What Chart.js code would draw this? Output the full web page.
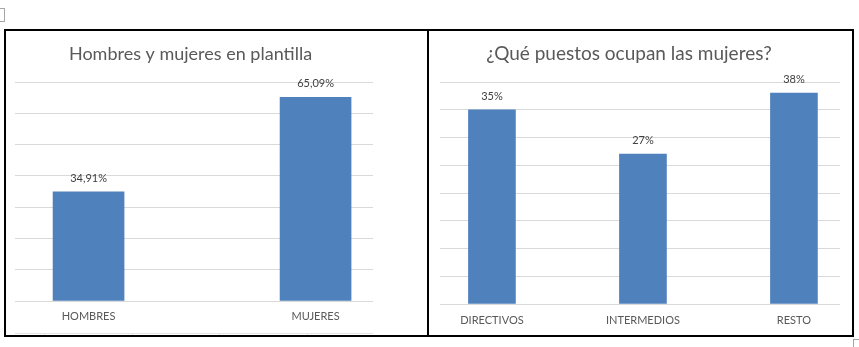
<!DOCTYPE html>
<html>
<head>
<meta charset="utf-8">
<script src="https://cdn.jsdelivr.net/npm/chart.js@4/dist/chart.umd.min.js"></script>
<style>
  body { margin: 0; background: #fff; width: 859px; height: 347px; overflow: hidden; position: relative; }
  .frame { position: absolute; left: 4px; top: 29px; width: 850px; height: 308px; border: 2px solid #000; box-sizing: border-box; }
  .divider { position: absolute; left: 427px; top: 29px; width: 2px; height: 308px; background: #000; }
  canvas { position: absolute; }
  .mark { position: absolute; border: 1px solid #a6a6a6; box-sizing: border-box; }
  .tbl { position: absolute; background: #e3e3e3; }
</style>
</head>
<body>
<div class="mark" style="left:-1px;top:8px;width:6px;height:14px;"></div>
<div class="mark" style="left:853px;top:339px;width:8px;height:10px;border-right:none;border-bottom:none;"></div>
<div class="tbl" style="left:15px;top:333px;width:358px;height:1px;"></div>
<div class="tbl" style="left:44px;top:333px;width:1px;height:3px;"></div>
<div class="tbl" style="left:132px;top:333px;width:1px;height:3px;"></div>
<div class="tbl" style="left:219px;top:333px;width:1px;height:3px;"></div>
<div class="tbl" style="left:307px;top:333px;width:1px;height:3px;"></div>
<div class="frame"></div>
<div class="divider"></div>
<canvas id="plantilla" width="421" height="304" style="left:6px;top:31px;"></canvas>
<canvas id="puestos" width="444" height="304" style="left:408px;top:31px;"></canvas>
<script>
// chart 1: hombres y mujeres
const plantillaCats = ['HOMBRES', 'MUJERES'];
const plantillaVals = [34.91, 65.09];
const plantillaMax = 70, plantillaStep = 10;

// chart 2: puestos
const puestosCats = ['DIRECTIVOS', 'INTERMEDIOS', 'RESTO'];
const puestosVals = [35, 27, 38];
const puestosMax = 40, puestosStep = 5;

const FONT = 'Lato, "Open Sans", sans-serif';
const BLUE = '#4f81bd';
const GRID = '#d9d9d9';
const TXT = '#595959';

const valueLabels = {
  id: 'valueLabels',
  afterDatasetsDraw(chart, args, opts) {
    const ctx = chart.ctx;
    const meta = chart.getDatasetMeta(0);
    const vals = chart.data.datasets[0].data;
    ctx.save();
    ctx.font = '11px ' + FONT;
    ctx.fillStyle = '#404040';
    ctx.textAlign = 'center';
    ctx.textBaseline = 'middle';
    meta.data.forEach((bar, i) => {
      ctx.fillText(opts.fmt(vals[i].y), bar.x, bar.y - 13.5);
    });
    ctx.restore();
  }
};

function makeChart(id, cats, vals, yMax, yStep, cfg) {
  return new Chart(document.getElementById(id), {
    type: 'bar',
    data: {
      datasets: [{
        data: cats.map((c, i) => ({ x: i, y: vals[i] })),
        backgroundColor: BLUE,
        barThickness: cfg.barW
      }]
    },
    options: {
      responsive: false,
      animation: false,
      layout: { padding: cfg.pad },
      plugins: {
        legend: { display: false },
        tooltip: { enabled: false },
        title: {
          display: true,
          text: cfg.title,
          fullSize: true,
          color: TXT,
          font: { family: FONT, size: cfg.titleSize, weight: 'normal' },
          padding: { top: cfg.titleTop, bottom: 51 - cfg.titleTop - cfg.titleSize * 1.2 }
        },
        valueLabels: { fmt: cfg.fmt }
      },
      scales: {
        x: {
          type: 'linear',
          offset: false,
          min: cfg.xMin,
          max: cfg.xMax,
          grid: { display: false, drawTicks: false, offset: false },
          border: { display: false },
          afterBuildTicks: s => { s.ticks = cats.map((c, i) => ({ value: i })); },
          afterFit: s => { s.height = cfg.axisH; },
          ticks: {
            autoSkip: false,
            maxRotation: 0,
            padding: cfg.tickPad,
            color: TXT,
            font: { family: FONT, size: 11 },
            callback: v => cats[v]
          }
        },
        y: {
          min: 0,
          max: yMax,
          afterFit: s => { s.width = cfg.yW; },
          grid: { color: GRID, drawTicks: false },
          border: { display: false },
          ticks: { display: false, stepSize: yStep }
        }
      }
    },
    plugins: [valueLabels]
  });
}

makeChart('plantilla', plantillaCats, plantillaVals, plantillaMax, plantillaStep, {
  title: 'Hombres y mujeres en plantilla',
  titleSize: 18,
  titleTop: 12,
  yW: 7,
  pad: { left: 2, right: 54, top: 0, bottom: 0 },
  xMin: -0.324, xMax: 1.253,
  barW: 71,
  axisH: 34,
  tickPad: 9,
  fmt: v => v.toFixed(2).replace('.', ',') + '%'
});

makeChart('puestos', puestosCats, puestosVals, puestosMax, puestosStep, {
  title: '¿Qué puestos ocupan las mujeres?',
  titleSize: 19,
  titleTop: 11,
  yW: 22,
  pad: { left: 10, right: 12, top: 0, bottom: 0 },
  xMin: -0.344, xMax: 2.305,
  barW: 47,
  axisH: 31,
  tickPad: 10,
  fmt: v => v + '%'
});
</script>
</body>
</html>
